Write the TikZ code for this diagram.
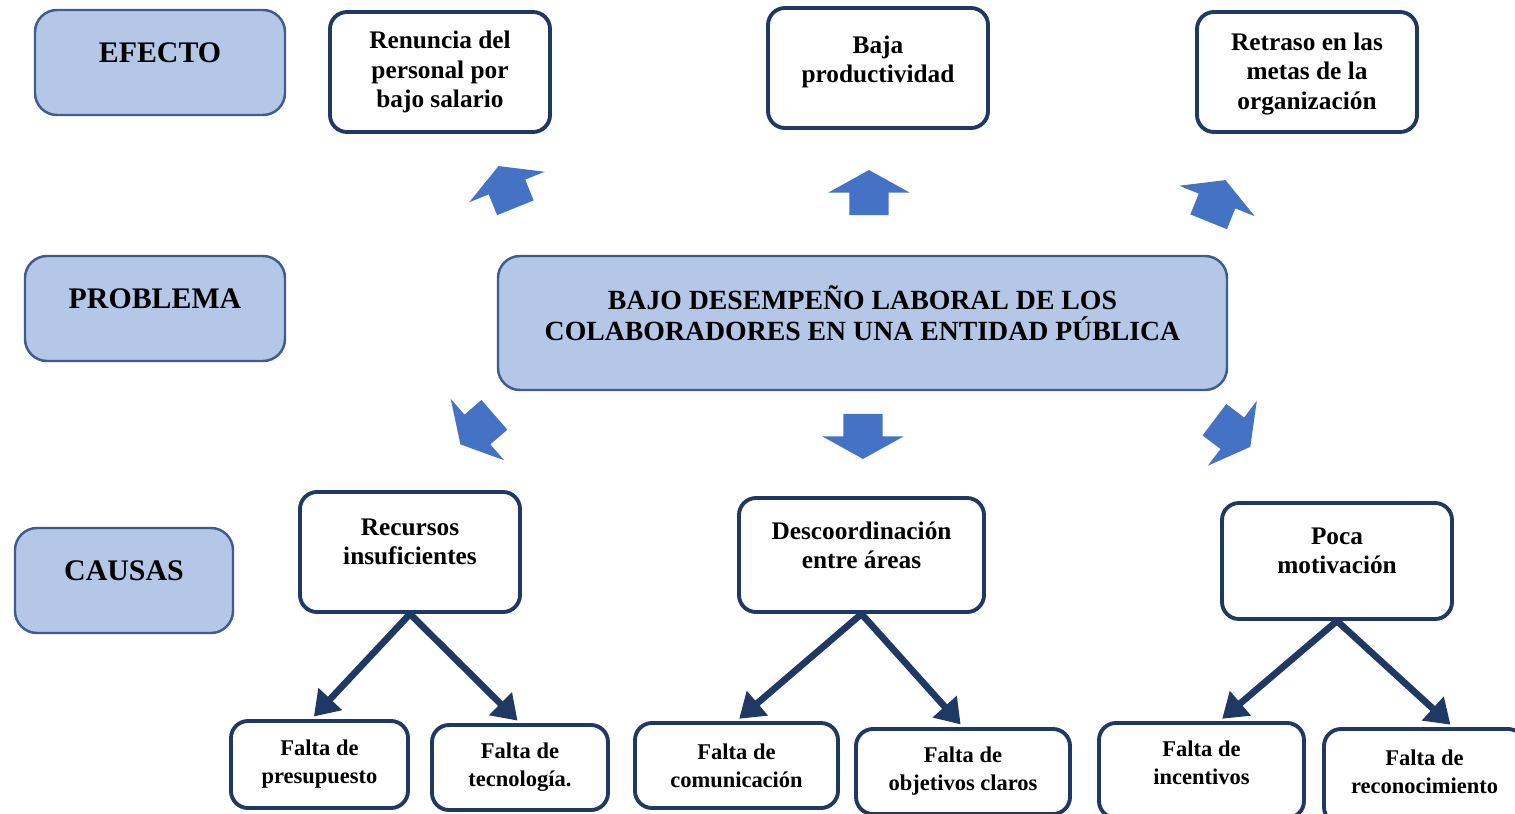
\documentclass[tikz,border=0pt]{standalone}
\usepackage{fontspec}
\setmainfont{Liberation Serif}
\usetikzlibrary{shapes.arrows, arrows.meta}
\definecolor{tagfill}{HTML}{B4C7E7}
\definecolor{tagline}{HTML}{3E5C8E}
\definecolor{navy}{HTML}{1F3864}
\definecolor{arrowblue}{HTML}{4472C4}
\tikzset{>={Triangle[length=2.4mm, width=3.1mm]}}
\tikzset{
  shadebox/.style = {rectangle, rounded corners = 0.22cm, draw = tagline, fill = tagfill, line width = 0.7pt},
  whitebox/.style = {rectangle, rounded corners = 0.17cm, draw = navy, fill = white, line width = 1.1pt},
  tagtext/.style = {align = center, yshift = 0.1cm, font = \bfseries\fontsize{8.5}{10}\selectfont},
  causetext/.style = {align = center, font = \bfseries\fontsize{7.2}{8.3}\selectfont},
  leaftext/.style = {align = center, font = \bfseries\fontsize{6.4}{8}\selectfont},
  tagbox/.style = {shadebox, label = {[tagtext]center:#1}},
  problembox/.style = {shadebox, label = {[tagtext, font = \bfseries\fontsize{7.9}{8.8}\selectfont]center:#1}},
  causebox/.style = {whitebox, label = {[causetext, yshift = 0.1cm]center:#1}},
  notebox/.style = {whitebox, label = {[causetext]center:#1}},
  leafbox/.style = {whitebox, label = {[leaftext]center:#1}},
  blockarrow/.style = {single arrow, fill = arrowblue, inner xsep = 0pt, inner ysep = 0.19cm, minimum height = 0.45cm, minimum width = 0.8cm, single arrow head extend = 0.21cm, single arrow tip angle = 122},
  branch/.style = {->, draw = navy, line width = 1.9pt, shorten > = 1pt}
}

\begin{document}
\begin{tikzpicture}

\clip (0, 0) rectangle (15.15, -8.14);

\node[tagbox = {EFECTO}, minimum width = 2.5cm, minimum height = 1.05cm] (efecto) at (1.6, -0.625) {};
\node[tagbox = {PROBLEMA}, minimum width = 2.6cm, minimum height = 1.05cm] (problema) at (1.55, -3.085) {};
\node[tagbox = {CAUSAS}, minimum width = 2.18cm, minimum height = 1.05cm] (causas) at (1.24, -5.805) {};

\node[notebox = {Renuncia del\\personal por\\bajo salario}, minimum width = 2.2cm, minimum height = 1.2cm] (renuncia) at (4.4, -0.72) {};
\node[whitebox, label = {[causetext, yshift = 0.06cm]center:Baja\\productividad}, minimum width = 2.2cm, minimum height = 1.2cm] (baja) at (8.78, -0.68) {};
\node[whitebox, label = {[causetext, yshift = -0.02cm]center:Retraso en las\\metas de la\\organización}, minimum width = 2.2cm, minimum height = 1.2cm] (retraso) at (13.07, -0.72) {};

\node[problembox = {BAJO DESEMPEÑO LABORAL DE LOS\\COLABORADORES EN UNA ENTIDAD PÚBLICA}, minimum width = 7.29cm, minimum height = 1.34cm] (problem) at (8.625, -3.23) {};

\node[blockarrow, rotate = 112] (up1) at (5.09, -1.92) {};
\node[blockarrow, rotate = 90] (up2) at (8.69, -1.98) {};
\node[blockarrow, rotate = 68] (up3) at (12.15, -2.06) {};
\node[blockarrow, rotate = 221] (down1) at (4.815, -4.26) {};
\node[blockarrow, rotate = -90] (down2) at (8.63, -4.31) {};
\node[blockarrow, rotate = -37] (down3) at (12.28, -4.3) {};

\node[causebox = {Recursos\\insuficientes}, minimum width = 2.2cm, minimum height = 1.2cm] (recursos) at (4.1, -5.52) {};
\node[causebox = {Descoordinación\\entre áreas}, minimum width = 2.45cm, minimum height = 1.14cm] (descoord) at (8.615, -5.55) {};
\node[causebox = {Poca\\motivación}, minimum width = 2.3cm, minimum height = 1.16cm] (motiv) at (13.37, -5.61) {};

\node[leafbox = {Falta de\\presupuesto}, minimum width = 1.77cm, minimum height = 0.87cm] (presup) at (3.195, -7.645) {};
\node[leafbox = {Falta de\\tecnología.}, minimum width = 1.76cm, minimum height = 0.85cm] (tecno) at (5.2, -7.675) {};
\node[leafbox = {Falta de\\comunicación}, minimum width = 2.03cm, minimum height = 0.85cm] (comunic) at (7.365, -7.655) {};
\node[leafbox = {Falta de\\objetivos claros}, minimum width = 2.14cm, minimum height = 0.85cm] (objet) at (9.63, -7.715) {};
\node[whitebox, label = {[leaftext, yshift = 0.08cm]center:Falta de\\incentivos}, minimum width = 2.05cm, minimum height = 0.95cm] (incent) at (12.015, -7.705) {};
\node[whitebox, label = {[leaftext, yshift = 0.05cm]center:Falta de\\reconocimiento}, minimum width = 2.01cm, minimum height = 0.95cm] (recon) at (14.245, -7.765) {};

\draw [branch] (recursos.south) -- (presup.100);
\draw [branch] (recursos.south) -- (tecno.north);
\draw [branch] (descoord.south) -- (comunic.north);
\draw [branch] (descoord.south) -- (objet.north);
\draw [branch] (motiv.south) -- (incent.70);
\draw [branch] (motiv.south) -- (recon.60);

\end{tikzpicture}
\end{document}
